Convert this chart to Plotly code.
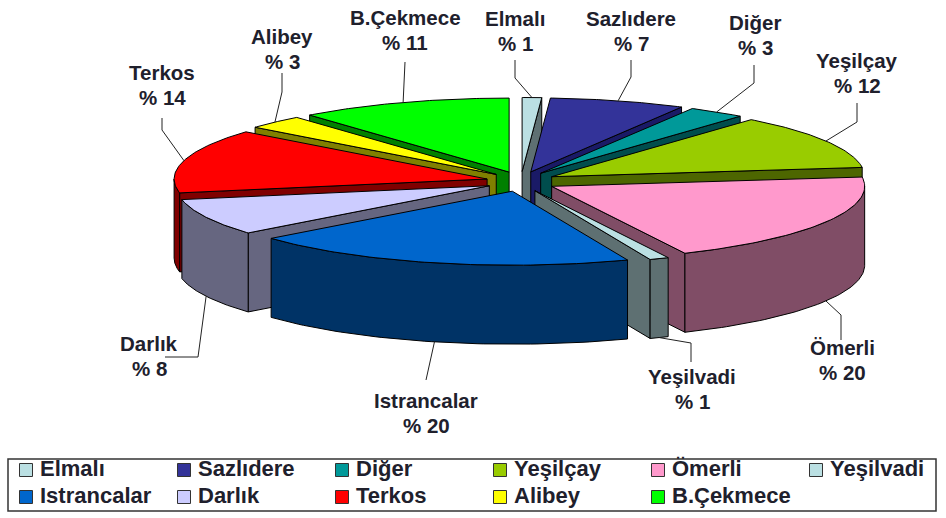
"""Exploded pseudo-3D pie: water source shares, drawn as filled scatter polygons."""

import numpy as np
import plotly.graph_objects as go

# ── Data ──────────────────────────────────────────────────────────────────────
names = ["Elmalı", "Sazlıdere", "Diğer", "Yeşilçay", "Ömerli", "Yeşilvadi",
         "Istrancalar", "Darlık", "Terkos", "Alibey", "B.Çekmece"]
shares = [1, 7, 3, 12, 20, 1, 20, 8, 14, 3, 11]

top_colors = ["#BBE0E3", "#333399", "#009999", "#99CC00", "#FF99CC", "#BBE0E3",
              "#0066CC", "#CCCCFF", "#FF0000", "#FFFF00", "#00FF00"]
wall_colors = ["#5E7072", "#1A1A66", "#004D4D", "#4D6600", "#804D66", "#5E7072",
               "#003366", "#666680", "#800000", "#808000", "#008000"]

# ── Pie geometry (pixels, the axes map 1:1 on the page) ───────────────────────
CX, CY = 521, 181.5
RX, RY = 313, 74
PULL_X, PULL_Y = 35, 10
DEPTH = 79

FONT = "Liberation Sans"
INK = "#20202C"

# label centre (name line), then the leader's bend points
label_spots = {
    "Elmalı":      ((515, 18), [(515, 60), (515, 78)]),
    "Sazlıdere":   ((631, 18), [(631, 60), (631, 77)]),
    "Diğer":       ((755, 22), [(754, 65), (754, 83)]),
    "Yeşilçay":    ((857, 60), [(857, 103), (857, 122)]),
    "Ömerli":      ((842, 347), [(841, 340), (841, 315)]),
    "Yeşilvadi":   ((692, 376), [(691, 362), (691, 343)]),
    "Istrancalar": ((426, 400), [(426, 380)]),
    "Darlık":      ((149, 343), [(165, 357), (198, 357)]),
    "Terkos":      ((162, 72), [(162, 118), (162, 130)]),
    "Alibey":      ((282, 36), [(282, 73), (282, 92)]),
    "B.Çekmece":   ((405, 17), [(405, 62)]),
}


def slice_center(mid):
    return CX + PULL_X * np.sin(mid), CY - PULL_Y * np.cos(mid)


def rim(cx, cy, t):
    return cx + RX * np.sin(t), cy - RY * np.cos(t)


def add_poly(fig, xs, ys, color):
    fig.add_trace(go.Scatter(
        x=list(xs) + [xs[0]], y=list(ys) + [ys[0]],
        mode="lines", fill="toself", fillcolor=color,
        line=dict(color="#000000", width=1),
        hoverinfo="skip", showlegend=False,
    ))


def add_slice(fig, start, end, top, wall):
    mid = (start + end) / 2
    cx, cy = slice_center(mid)

    # radial cut faces, only those turned towards the viewer
    for edge, normal in ((start, start - np.pi / 2), (end, end + np.pi / 2)):
        if np.cos(normal) < 0:
            ex, ey = rim(cx, cy, edge)
            add_poly(fig, [cx, ex, ex, cx], [cy, ey, ey + DEPTH, cy + DEPTH], wall)

    # outer wall, front half of the ellipse only
    lo, hi = max(start, np.pi / 2), min(end, 3 * np.pi / 2)
    if lo < hi:
        t = np.linspace(lo, hi, 60)
        ax, ay = rim(cx, cy, t)
        add_poly(fig, np.r_[ax, ax[::-1]], np.r_[ay, ay[::-1] + DEPTH], wall)

    t = np.linspace(start, end, 60)
    ax, ay = rim(cx, cy, t)
    add_poly(fig, np.r_[cx, ax], np.r_[cy, ay], top)


fig = go.Figure()

edges = np.cumsum([0] + shares) / sum(shares) * 2 * np.pi
mids = (edges[:-1] + edges[1:]) / 2

# back to front so nearer slices cover the ones behind
for i in sorted(range(len(names)), key=lambda k: -np.cos(mids[k])):
    add_slice(fig, edges[i], edges[i + 1], top_colors[i], wall_colors[i])

# ── Labels + leaders ──────────────────────────────────────────────────────────
for i, name in enumerate(names):
    (lx, ly), bends = label_spots[name]
    cx, cy = slice_center(mids[i])
    ax, ay = rim(cx, cy, mids[i])
    if np.cos(mids[i]) < 0:
        ay += DEPTH
    fig.add_trace(go.Scatter(
        x=[p[0] for p in bends] + [ax], y=[p[1] for p in bends] + [ay],
        mode="lines", line=dict(color="#222222", width=1),
        hoverinfo="skip", showlegend=False,
    ))
    for text, y in ((name, ly), (f"% {shares[i]}", ly + 25)):
        fig.add_annotation(x=lx, y=y, text=f"<b>{text}</b>", showarrow=False,
                           font=dict(family=FONT, size=20.5, color=INK))

# ── Legend box ────────────────────────────────────────────────────────────────
fig.add_shape(type="rect", x0=8, x1=936, y0=459, y1=511,
              line=dict(color="#333333", width=1.5))
swatch_x = [26 + 158 * (i % 6) for i in range(len(names))]
swatch_y = [470 + 27 * (i // 6) for i in range(len(names))]
fig.add_trace(go.Scatter(
    x=swatch_x, y=swatch_y, mode="markers",
    marker=dict(symbol="square", size=13, color=top_colors,
                line=dict(color="#333333", width=1)),
    hoverinfo="skip", showlegend=False,
))
fig.add_trace(go.Scatter(
    x=[x + 14 for x in swatch_x], y=swatch_y, mode="text",
    text=[f"<b>{n}</b>" for n in names],
    textposition="middle right",
    textfont=dict(family=FONT, size=22, color=INK),
    hoverinfo="skip", showlegend=False,
))

fig.update_layout(
    width=946, height=518,
    margin=dict(l=0, r=0, t=0, b=0),
    paper_bgcolor="white", plot_bgcolor="white",
    xaxis=dict(range=[0, 946], visible=False),
    yaxis=dict(range=[518, 0], visible=False),
    showlegend=False,
)

# the page's default body margin would push the figure off by 8 px
fig.write_html("out.html", config=dict(displayModeBar=False),
               post_script="document.body.style.margin='0';")
